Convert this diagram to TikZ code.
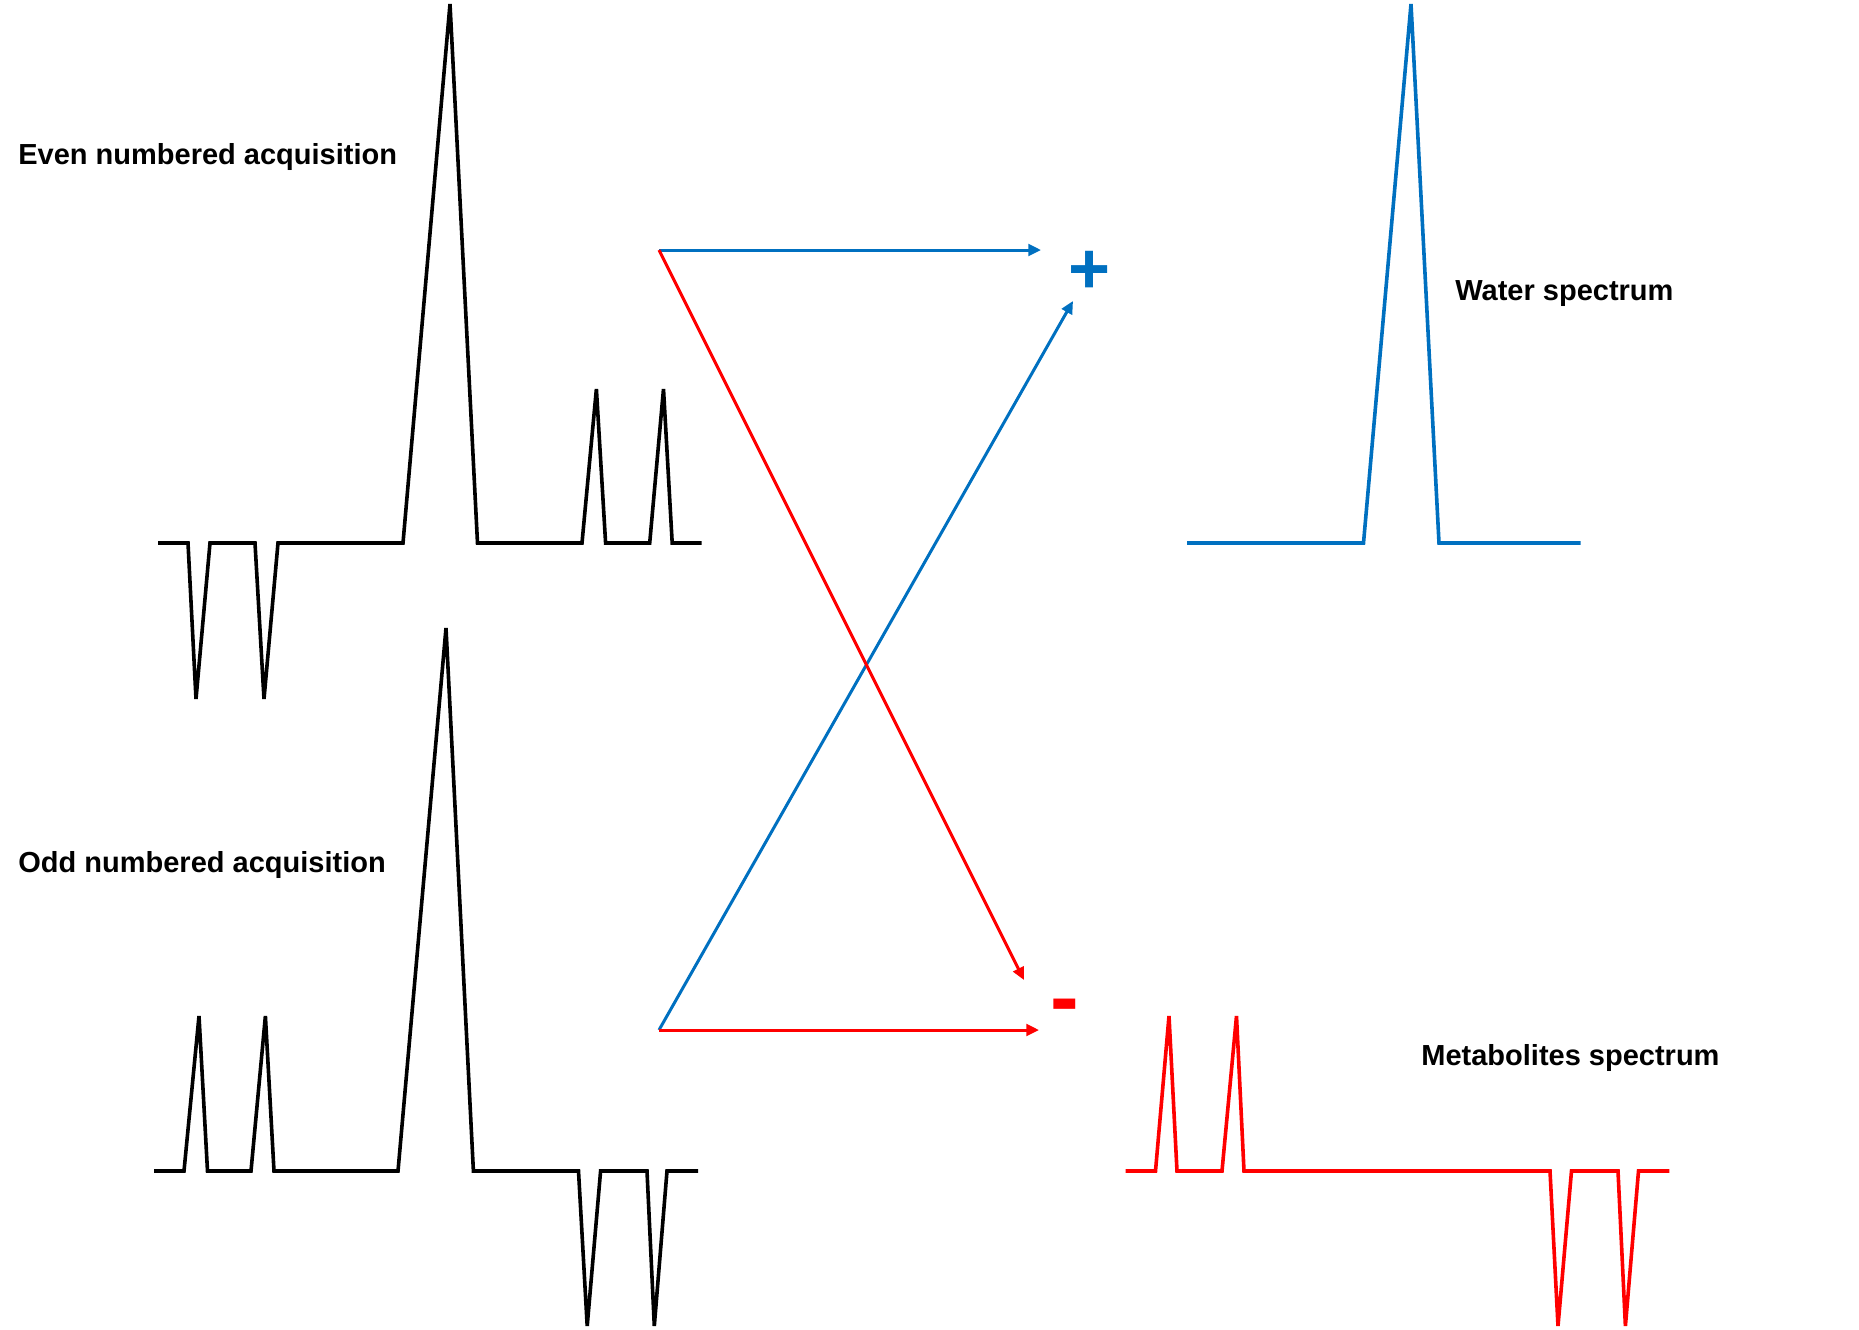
\documentclass[tikz,border=0pt]{standalone}
\usepackage{fontspec}
\setmainfont{Liberation Sans}
\usetikzlibrary{arrows.meta}
\definecolor{wblue}{HTML}{0070C0}
\definecolor{mred}{HTML}{FF0000}
\begin{document}
\begin{tikzpicture}[x=0.5pt,y=-0.5pt,
  spec/.style={line width=1.8pt, line join=miter},
  conn/.style={line width=1.5pt, -{Triangle[length=6.3pt,width=5.8pt]}},
  lbl/.style={font=\bfseries\fontsize{14.5}{17}\selectfont, inner sep=0pt, anchor=base west},
  sign/.style={inner sep=0pt}]
\useasboundingbox (0,0) rectangle (1859,1329);

% labels
\node[lbl] (evenlbl) at (18,164) {Even numbered acquisition};
\node[lbl] (oddlbl) at (18,872) {Odd numbered acquisition};
\node[lbl] (waterlbl) at (1455,300.5) {Water spectrum};
\node[lbl] (metablbl) at (1421,1065) {Metabolites spectrum};

% spectra
\draw[spec, black] (158,543) -- (188,543) -- (196,699) -- (210,543) -- (255,543) -- (264,699) -- (278,543)
  -- (403,543) -- (450,4) -- (477.5,543) -- (582,543) -- (596.4,389) -- (605.6,543)
  -- (649.7,543) -- (663.5,389) -- (672.2,543) -- (701.6,543);
\draw[spec, black] (154,1171) -- (184,1171) -- (199,1016) -- (207.5,1171) -- (251,1171) -- (265.4,1016) -- (274,1171)
  -- (398,1171) -- (446,628) -- (473.4,1171) -- (578.5,1171) -- (587.2,1326) -- (600.6,1171)
  -- (647,1171) -- (654.3,1326) -- (667,1171) -- (698,1171);
\draw[spec, wblue] (1187,543) -- (1363.5,543) -- (1411,4) -- (1439,543) -- (1580.5,543);
\draw[spec, mred] (1125.5,1171) -- (1155.5,1171) -- (1169,1016) -- (1177,1171) -- (1222,1171) -- (1236.5,1016) -- (1244,1171)
  -- (1550,1171) -- (1558,1326) -- (1571.5,1171) -- (1618,1171) -- (1625.4,1326) -- (1638.5,1171) -- (1669.3,1171);

% signs
\node[sign, text=wblue, font=\bfseries\fontsize{36}{37}\selectfont] (plus) at (1090,272) {+};
\node[sign, text=mred, font=\bfseries\fontsize{43}{44}\selectfont] (minus) at (1065,1013) {-};

% connectors
\coordinate (evenOut) at (659,250);
\coordinate (oddOut) at (659,1030);
\coordinate (plusIn) at (1041,250);
\coordinate (plusInD) at (1073,301);
\coordinate (minusIn) at (1039,1030);
\coordinate (minusInD) at (1024,980);
\draw[conn, wblue] (evenOut) -- (plusIn);
\draw[conn, wblue] (oddOut) -- (plusInD);
\draw[conn, mred] (evenOut) -- (minusInD);
\draw[conn, mred] (oddOut) -- (minusIn);
\end{tikzpicture}
\end{document}
